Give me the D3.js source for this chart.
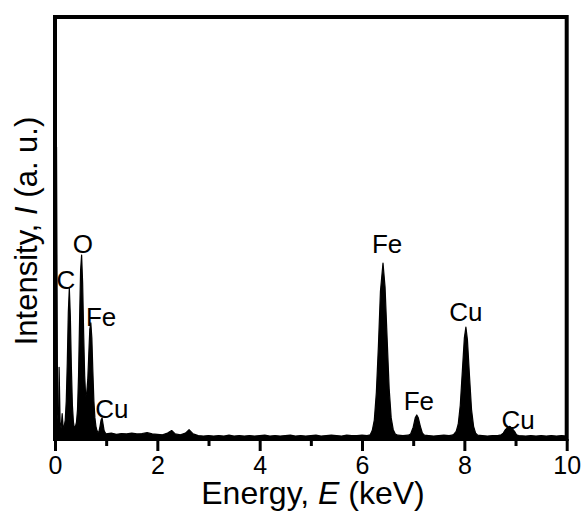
<!DOCTYPE html>
<html>
<head>
<meta charset="utf-8">
<script src="https://cdn.jsdelivr.net/npm/d3@7"></script>
<style>
  body { margin: 0; background: #fff; }
  text { font-family: Arial, "Liberation Sans", sans-serif; fill: #000; }
</style>
</head>
<body>
<script>
// EDS spectrum (intensity in arbitrary units)
var spectrumE = [0.00, 0.01, 0.03, 0.05, 0.07, 0.08, 0.10, 0.12, 0.14, 0.16, 0.18,
  0.20, 0.22, 0.24, 0.26, 0.28, 0.30, 0.32, 0.34, 0.36, 0.38,
  0.40, 0.42, 0.44, 0.46, 0.48, 0.50, 0.52, 0.54, 0.56, 0.58,
  0.60, 0.62, 0.64, 0.66, 0.68, 0.70, 0.72, 0.74, 0.76, 0.78,
  0.80, 0.82, 0.84, 0.86, 0.88, 0.90, 0.92, 0.94, 0.96, 0.98, 1.00,
  1.1, 1.2, 1.3, 1.4, 1.5, 1.6, 1.7, 1.8, 1.9, 2.0, 2.1, 2.2, 2.28, 2.35, 2.45, 2.55, 2.62, 2.7,
  2.8, 2.9, 3.0, 3.1, 3.2, 3.3, 3.4, 3.5, 3.6, 3.7, 3.8, 3.9, 4.0, 4.1, 4.2, 4.3, 4.4, 4.5,
  4.6, 4.7, 4.8, 4.9, 5.0, 5.1, 5.2, 5.3, 5.4, 5.5, 5.6, 5.7, 5.8, 5.9, 6.0, 6.1,
  6.16, 6.20, 6.24, 6.28, 6.32, 6.36, 6.41, 6.45, 6.49, 6.53, 6.57, 6.61, 6.65, 6.7, 6.8, 6.9,
  6.95, 7.00, 7.04, 7.07, 7.10, 7.14, 7.18, 7.22, 7.3, 7.4, 7.5, 7.6, 7.7, 7.76,
  7.80, 7.84, 7.88, 7.92, 7.96, 8.00, 8.03, 8.06, 8.10, 8.14, 8.18, 8.22, 8.26, 8.35, 8.45, 8.55, 8.65,
  8.72, 8.76, 8.80, 8.84, 8.89, 8.94, 8.98, 9.02, 9.06, 9.2, 9.3, 9.4, 9.5, 9.6, 9.7, 9.8, 9.9, 10.0];

var spectrumI = [0, 690, 692, 60, 30, 170, 40, 25, 60, 28, 30,
  45, 90, 180, 300, 358, 290, 170, 80, 40, 25,
  30, 40, 70, 150, 280, 400, 436, 370, 250, 150,
  100, 110, 140, 200, 260, 275, 240, 160, 90, 50,
  30, 20, 15, 18, 30, 45, 50, 35, 20, 15, 12,
  14, 11, 13, 12, 14, 12, 13, 15, 12, 11, 10, 14, 20, 12, 10, 14, 22, 12,
  8, 7, 8, 7, 8, 7, 9, 7, 8, 7, 8, 7, 8, 9, 7, 8, 7, 8,
  9, 7, 8, 7, 8, 9, 7, 8, 9, 8, 7, 9, 8, 8, 9, 8,
  10, 20, 45, 110, 220, 350, 417, 360, 240, 120, 50, 22, 12, 9, 8, 9,
  12, 28, 50, 57, 50, 30, 14, 9, 8, 7, 8, 9, 8, 9,
  12, 18, 35, 80, 160, 240, 265, 235, 150, 70, 30, 14, 9, 8, 7, 8, 8,
  10, 14, 22, 26, 30, 24, 18, 10, 8, 7, 8, 7, 8, 7, 8, 7, 8, 7];

// peak labels (element, energy and intensity where the label sits)
var peakNames = ["C", "O", "Fe", "Cu", "Fe", "Fe", "Cu", "Cu"];
var peakLabelE = [0.215, 0.547, 0.90, 1.11, 6.49, 7.11, 8.03, 9.05];
var peakLabelI = [377, 464, 291, 73, 462, 92, 301, 45];

var majorTicks = [0, 2, 4, 6, 8, 10];
var minorTicks = [1, 3, 5, 7, 9];

var svgWidth = 587;
var svgHeight = 516;

var margin = { top: 17, right: 20, bottom: 77, left: 55 };
var width = 566.7 - margin.left;
var height = 439 - margin.top;

var svg = d3.select("body")
  .append("svg")
  .attr("width", svgWidth)
  .attr("height", svgHeight);

var chartGroup = svg.append("g")
  .attr("transform", `translate(${margin.left}, ${margin.top})`);

var xScale = d3.scaleLinear().domain([0, 10]).range([0, width]);
var yScale = d3.scaleLinear().domain([0, 1000]).range([height, 0]);

var data = spectrumE.map(function(e, i) { return { e: e, v: spectrumI[i] }; });

chartGroup.append("clipPath")
  .attr("id", "plotclip")
  .append("rect")
  .attr("width", width)
  .attr("height", height);

var area = d3.area()
  .x(d => xScale(d.e))
  .y0(yScale(0))
  .y1(d => yScale(d.v));

chartGroup.append("path")
  .datum(data)
  .attr("clip-path", "url(#plotclip)")
  .attr("d", area)
  .attr("fill", "#000")
  .attr("stroke", "#000")
  .attr("stroke-width", 1.2)
  .attr("stroke-linejoin", "round");

// axes
var xAxis = d3.axisBottom(xScale)
  .tickValues(majorTicks)
  .tickSize(12)
  .tickSizeOuter(0)
  .tickPadding(5)
  .tickFormat(d3.format("d"));

var xMinor = d3.axisBottom(xScale)
  .tickValues(minorTicks)
  .tickSize(7)
  .tickSizeOuter(0)
  .tickFormat("");

var gx = chartGroup.append("g")
  .attr("transform", `translate(0, ${height})`)
  .call(xAxis);
gx.select(".domain").remove();
gx.selectAll(".tick line").attr("stroke", "#000").attr("stroke-width", 3);
gx.selectAll(".tick text")
  .style("font-size", "25px")
  .attr("font-family", null);

var gm = chartGroup.append("g")
  .attr("transform", `translate(0, ${height})`)
  .call(xMinor);
gm.select(".domain").remove();
gm.selectAll(".tick line").attr("stroke", "#000").attr("stroke-width", 3);

// frame
chartGroup.append("rect")
  .attr("width", width)
  .attr("height", height)
  .attr("fill", "none")
  .attr("stroke", "#000")
  .attr("stroke-width", 4);

// peak labels
chartGroup.selectAll(".peak")
  .data(peakNames)
  .enter()
  .append("text")
  .attr("class", "peak")
  .attr("x", (d, i) => xScale(peakLabelE[i]))
  .attr("y", (d, i) => yScale(peakLabelI[i]))
  .attr("dy", "0.36em")
  .attr("text-anchor", "middle")
  .style("font-size", "26px")
  .text(d => d);

// axis titles
var xTitle = svg.append("text")
  .attr("x", 313)
  .attr("y", 504)
  .attr("text-anchor", "middle")
  .style("font-size", "32px");
xTitle.append("tspan").text("Energy, ");
xTitle.append("tspan").attr("font-style", "italic").text("E");
xTitle.append("tspan").text(" (keV)");

var yTitle = svg.append("text")
  .attr("transform", "translate(37, 231) rotate(-90)")
  .attr("text-anchor", "middle")
  .style("font-size", "31px");
yTitle.append("tspan").text("Intensity, ");
yTitle.append("tspan").attr("font-style", "italic").text("I");
yTitle.append("tspan").text(" (a. u.)");
</script>
</body>
</html>
